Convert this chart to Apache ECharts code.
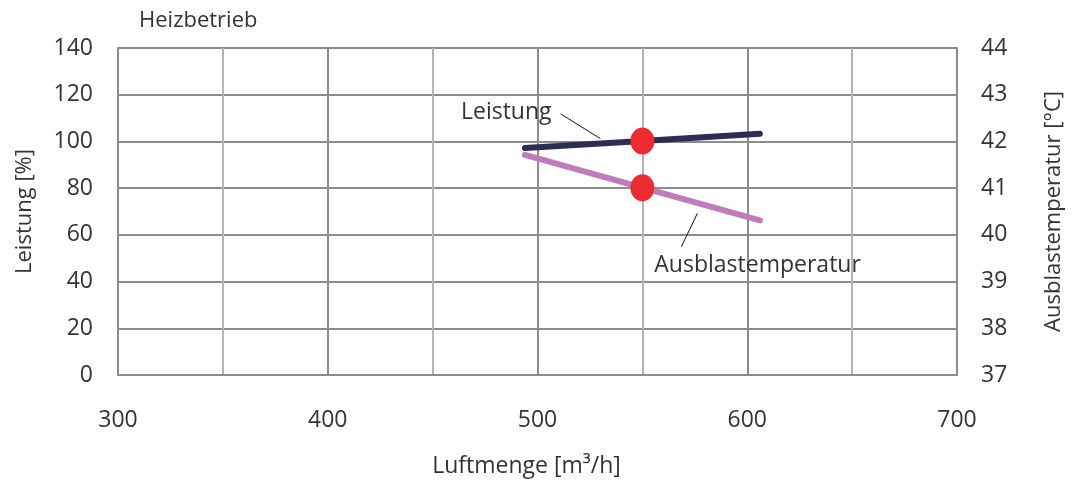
<!DOCTYPE html>
<html>
<head>
<meta charset="utf-8">
<script src="https://cdn.jsdelivr.net/npm/echarts@6/dist/echarts.min.js"></script>
<style>html,body{margin:0;padding:0;background:#fff}#c{width:1073px;height:488px}</style>
</head>
<body>
<div id="c"></div>
<script>
// Data
const leistungData = [[494, 97.2], [550, 100.2], [606, 103.3]];          // Leistung [%] (left axis)
const ausblasData = [[494, 41.71], [550, 41.01], [606, 40.31]];          // Ausblastemperatur [°C] (right axis)
const operatingLeistung = [[550, 100.2]];
const operatingAusblas = [[550, 41.01]];
const leistungLeader = [[511, 111.8], [530, 101.2]];
const ausblasLeader = [[568.6, 54.9], [576.2, 69.2]];
const leistungLabelPos = [[506.7, 112.4]];
const ausblasLabelPos = [[555.7, 47.1]];
const xTicks = [300, 400, 500, 600, 700];
const leftTicks = [0, 20, 40, 60, 80, 100, 120, 140];
const rightTicks = [37, 38, 39, 40, 41, 42, 43, 44];

const FONT = '"Open Sans", "Noto Sans", sans-serif';
const TXT = '#333333';
const chart = echarts.init(document.getElementById('c'));
chart.setOption({
  animation: false,
  backgroundColor: '#fff',
  textStyle: { fontFamily: FONT, color: TXT },
  title: {
    text: 'Heizbetrieb', left: 134, top: 5,
    textStyle: { fontFamily: FONT, fontWeight: 'normal', fontSize: 22, color: TXT }
  },
  grid: { left: 118, right: 115, top: 48, bottom: 113 },
  xAxis: {
    type: 'value', min: 300, max: 700, interval: 50,
    name: 'Luftmenge [m³/h]', nameLocation: 'middle', nameGap: 80,
    nameTextStyle: { fontFamily: FONT, fontSize: 23, color: TXT, padding: [0, 22, 0, 0] },
    axisLine: { show: true, lineStyle: { color: '#8c8c8c', width: 2 } },
    axisTick: { show: false },
    axisLabel: {
      margin: 34, fontSize: 23, color: TXT, fontFamily: FONT,
      formatter: v => xTicks.includes(v) ? String(v) : ''
    },
    splitLine: { show: true, lineStyle: { color: ['#8c8c8c', '#b4b4b4'], width: 2 } }
  },
  yAxis: [{
    type: 'value', min: 0, max: 140, interval: 20, position: 'left',
    name: 'Leistung [%]', nameLocation: 'middle', nameGap: 82, nameRotate: 90,
    nameTextStyle: { fontFamily: FONT, fontSize: 22, color: TXT },
    axisLine: { show: true, lineStyle: { color: '#8c8c8c', width: 2 } },
    axisTick: { show: false },
    axisLabel: { margin: 25, fontSize: 23, color: TXT, fontFamily: FONT,
      formatter: v => leftTicks.includes(v) ? String(v) : '' },
    splitLine: { show: true, lineStyle: { color: '#8c8c8c', width: 2 } }
  }, {
    type: 'value', min: 37, max: 44, interval: 1, position: 'right',
    name: 'Ausblastemperatur [°C]', nameLocation: 'middle', nameGap: 86, nameRotate: 90,
    nameTextStyle: { fontFamily: FONT, fontSize: 22, color: TXT },
    axisLine: { show: true, lineStyle: { color: '#8c8c8c', width: 2 } },
    axisTick: { show: false },
    axisLabel: { margin: 24, fontSize: 23, color: TXT, fontFamily: FONT,
      formatter: v => rightTicks.includes(v) ? String(v) : '' },
    splitLine: { show: false }
  }],
  series: [
    { type: 'line', name: 'Leistung', yAxisIndex: 0, data: leistungData, showSymbol: false, symbol: 'none',
      lineStyle: { color: '#2c2d55', width: 6, cap: 'round' }, z: 3 },
    { type: 'line', name: 'Ausblastemperatur', yAxisIndex: 1, data: ausblasData, showSymbol: false, symbol: 'none',
      lineStyle: { color: '#c07bb8', width: 6, cap: 'round' }, z: 3 },
    { type: 'scatter', yAxisIndex: 0, data: operatingLeistung, symbol: 'circle', symbolSize: [24, 27],
      itemStyle: { color: '#ec2a2f', opacity: 1 }, z: 5 },
    { type: 'scatter', yAxisIndex: 1, data: operatingAusblas, symbol: 'circle', symbolSize: [24, 27],
      itemStyle: { color: '#ec2a2f', opacity: 1 }, z: 5 },
    { type: 'line', yAxisIndex: 0, data: leistungLeader, symbol: 'none',
      lineStyle: { color: '#111', width: 1 }, z: 4 },
    { type: 'line', yAxisIndex: 0, data: ausblasLeader, symbol: 'none',
      lineStyle: { color: '#111', width: 1 }, z: 4 },
    { type: 'scatter', yAxisIndex: 0, data: leistungLabelPos, symbolSize: 0,
      itemStyle: { opacity: 1 },
      label: { show: true, position: 'left', distance: 0, formatter: 'Leistung',
        fontFamily: FONT, fontSize: 23, color: TXT }, z: 6 },
    { type: 'scatter', yAxisIndex: 0, data: ausblasLabelPos, symbolSize: 0,
      itemStyle: { opacity: 1 },
      label: { show: true, position: 'right', distance: 0, formatter: 'Ausblastemperatur',
        fontFamily: FONT, fontSize: 23, color: TXT }, z: 6 }
  ]
});
</script>
</body>
</html>
